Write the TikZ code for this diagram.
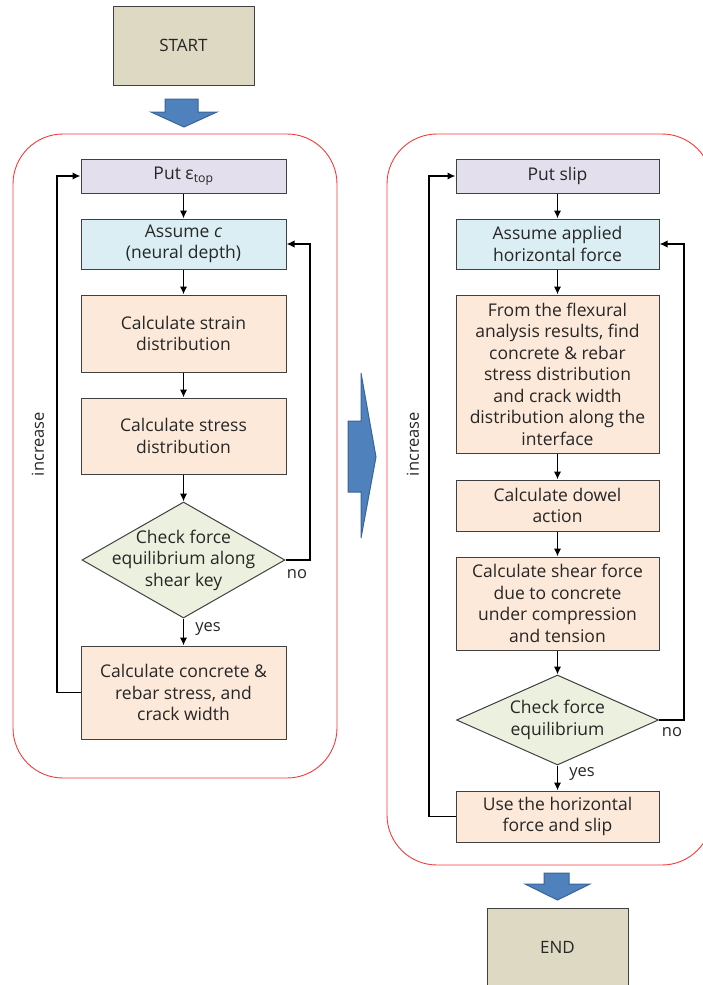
\documentclass[tikz,border=0pt]{standalone}
\usepackage{fontspec}
\setmainfont{Open Sans}
\usetikzlibrary{shapes.geometric,arrows.meta}
\definecolor{tanfill}{HTML}{DDD9C3}
\definecolor{lavfill}{HTML}{E4DFEC}
\definecolor{bluefill}{HTML}{DAEEF3}
\definecolor{peachfill}{HTML}{FDE9D9}
\definecolor{greenfill}{HTML}{EBF1DE}
\definecolor{boxline}{HTML}{404040}
\definecolor{txt}{HTML}{262626}
\definecolor{barrow}{HTML}{4F81BD}
\definecolor{barrowline}{HTML}{3A6398}
\definecolor{framered}{HTML}{F43B3B}
\tikzset{
  box/.style={draw=boxline, line width=1pt, minimum width=205pt, inner sep=0pt, align=center,
    text=txt, font=\fontsize{17.5}{21.5}\selectfont},
  startend/.style={draw=boxline, line width=1pt, fill=tanfill, minimum width=141pt, inner sep=0pt,
    text=txt, font=\fontsize{17}{21.5}\selectfont},
  dia/.style={draw=boxline, line width=1pt, fill=greenfill, diamond, inner sep=0pt},
  diatext/.style={align=center, text=txt, font=\fontsize{17.5}{21.5}\selectfont},
  lbl/.style={text=txt, font=\fontsize{16.5}{19}\selectfont, inner sep=0pt},
  conn/.style={line width=1.8pt, -{Latex[length=8pt,width=7.5pt]}},
  frame/.style={draw=framered, line width=0.9pt, rounded corners=50pt},
  bigarrow/.style={fill=barrow, draw=barrowline, line width=1pt, line join=miter}
}
\begin{document}
\begin{tikzpicture}[x=1pt,y=-1pt]
\useasboundingbox (0,0) rectangle (702,985);
% frames
\draw[frame] (13,134) rectangle (337,778);
\draw[frame] (387,134) rectangle (712,865);
% start / end
\node[startend, minimum height=79pt] (start) at (183.5,45.5) {START};
\node[startend, minimum height=92pt, text depth=0pt] (end) at (557.5,954) {};
\node[text=txt, font=\fontsize{17}{21.5}\selectfont] (endt) at (557.5,947) {END};
% block arrows
\draw[bigarrow] (165,99) -- (198,99) -- (198,112) -- (217,112) -- (184,127) -- (151,112) -- (165,112) -- cycle;
\draw[bigarrow] (544,873) -- (569,873) -- (569,884) -- (590,884) -- (557.5,900) -- (525,884) -- (544,884) -- cycle;
\draw[bigarrow] (348,421) -- (361,421) -- (361,373) -- (376,457) -- (361,538) -- (361,492) -- (348,492) -- cycle;
% left column
\node[box, fill=lavfill, minimum height=34pt] (put1) at (183.5,176) {Put ε\textsubscript{top}};
\node[box, fill=bluefill, minimum height=50pt] (asm1) at (183.5,244) {Assume \textit{c}\\(neural depth)};
\node[box, fill=peachfill, minimum height=77pt] (str1) at (183.5,333.5) {Calculate strain\\distribution};
\node[box, fill=peachfill, minimum height=76pt] (sts1) at (183.5,436) {Calculate stress\\distribution};
\node[dia, minimum width=203pt, minimum height=116pt] (d1) at (183.5,560) {};
\node[diatext] (d1t) at (d1.center) {Check force\\equilibrium along\\shear key};
\node[box, fill=peachfill, minimum height=93pt] (cc1) at (183.5,692.5) {Calculate concrete \&\\rebar stress, and\\crack width};
\draw[conn] (put1) -- (asm1);
\draw[conn] (asm1) -- (str1);
\draw[conn] (str1) -- (sts1);
\draw[conn] (sts1) -- (d1);
\draw[conn] (d1) -- (cc1);
\draw[conn] (cc1.west) -- (57,692.5) |- (put1.west);
\draw[conn] (d1.east) -- (310,560) |- (asm1.east);
\node[lbl] (no1) at (297,574) {no};
\node[lbl] (yes1) at (208,629) {yes};
\node[lbl, rotate=90] (inc1) at (38,444) {increase};
% right column
\node[box, fill=lavfill, minimum width=203pt, minimum height=34pt] (put2) at (557.5,176) {Put slip};
\node[box, fill=bluefill, minimum width=203pt, minimum height=50pt] (asm2) at (557.5,244) {Assume applied\\horizontal force};
\node[box, fill=peachfill, minimum width=203pt, minimum height=158pt] (fx2) at (557.5,374) {From the flexural\\analysis results, find\\concrete \& rebar\\stress distribution\\and crack width\\distribution along the\\interface};
\node[box, fill=peachfill, minimum width=203pt, minimum height=51pt] (dw2) at (557.5,505.5) {Calculate dowel\\action};
\node[box, fill=peachfill, minimum width=203pt, minimum height=93pt] (sh2) at (557.5,603.5) {Calculate shear force\\due to concrete\\under compression\\and tension};
\node[dia, minimum width=202pt, minimum height=90pt] (d2) at (557.5,720) {};
\node[diatext] (d2t) at (d2.center) {Check force\\equilibrium};
\node[box, fill=peachfill, minimum width=203pt, minimum height=51pt] (use2) at (557.5,816.5) {Use the horizontal\\force and slip};
\draw[conn] (put2) -- (asm2);
\draw[conn] (asm2) -- (fx2);
\draw[conn] (fx2) -- (dw2);
\draw[conn] (dw2) -- (sh2);
\draw[conn] (sh2) -- (d2);
\draw[conn] (d2) -- (use2);
\draw[conn] (use2.west) -- (429,816.5) |- (put2.west);
\draw[conn] (d2.east) -- (684,720) |- (asm2.east);
\node[lbl] (no2) at (672,732) {no};
\node[lbl] (yes2) at (582,774) {yes};
\node[lbl, rotate=90] (inc2) at (413,444) {increase};
\end{tikzpicture}
\end{document}
